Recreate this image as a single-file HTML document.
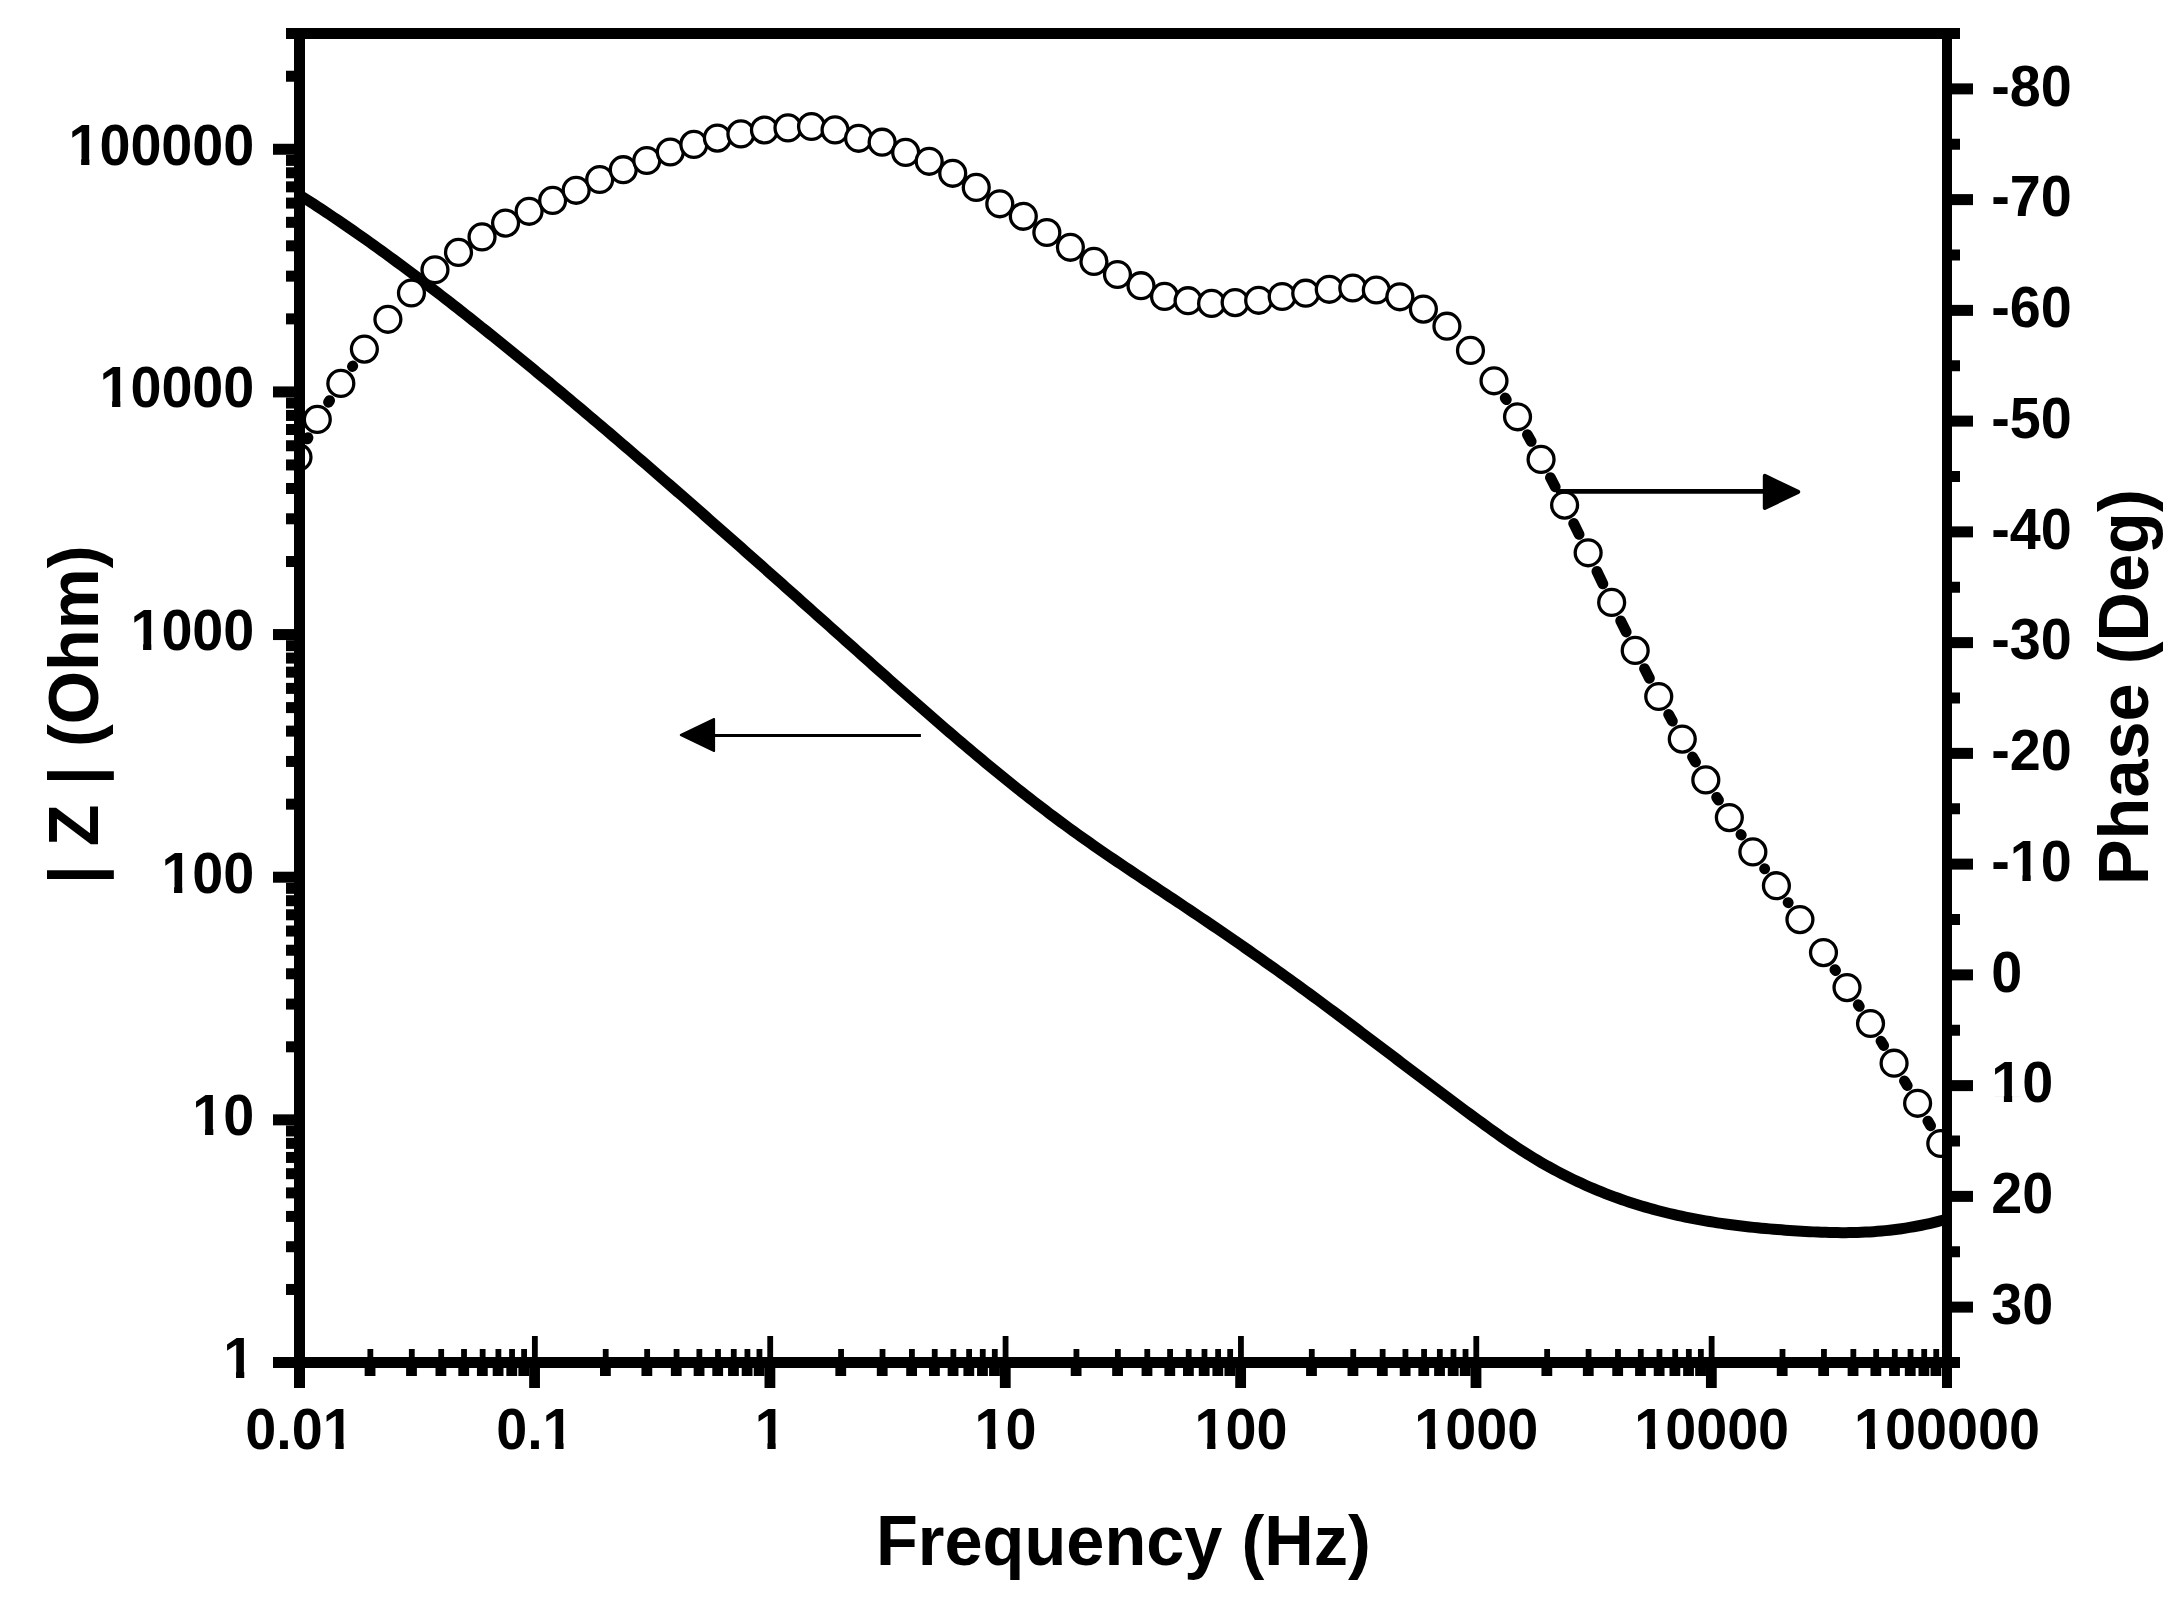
<!DOCTYPE html>
<html lang="en"><head><meta charset="utf-8"><title>Bode plot</title>
<style>html,body{margin:0;padding:0;background:#fff;overflow:hidden}svg{display:block}text{font-family:"Liberation Sans",Arial,Helvetica,sans-serif;font-weight:bold;fill:#000}</style></head><body>
<svg width="2182" height="1611" viewBox="0 0 2182 1611">
<rect width="2182" height="1611" fill="#fff"/>
<defs><clipPath id="plot"><rect x="299.5" y="33.5" width="1647.5" height="1329"/></clipPath></defs>
<g clip-path="url(#plot)">
<polyline fill="none" stroke="#000" stroke-width="11" stroke-linejoin="round" points="293.5,191.01 299.6,195.09 301.5,196.3 305.5,198.84 309.5,201.4 313.5,203.98 317.5,206.59 321.5,209.21 325.5,211.85 329.5,214.52 333.5,217.2 337.5,219.9 341.5,222.61 345.5,225.35 349.5,228.11 353.5,230.88 357.5,233.67 361.5,236.47 365.5,239.29 369.5,242.13 373.5,244.99 377.5,247.86 381.5,250.75 385.5,253.65 389.5,256.57 393.5,259.5 397.5,262.45 401.5,265.41 405.5,268.38 409.5,271.37 413.5,274.37 417.5,277.39 421.5,280.42 425.5,283.46 429.5,286.51 433.5,289.57 437.5,292.65 441.5,295.74 445.5,298.84 449.5,301.95 453.5,305.07 457.5,308.2 461.5,311.34 465.5,314.49 469.5,317.65 473.5,320.82 477.5,324 481.5,327.19 485.5,330.38 489.5,333.59 493.5,336.8 497.5,340.02 501.5,343.25 505.5,346.48 509.5,349.73 513.5,352.98 517.5,356.24 521.5,359.5 525.5,362.78 529.5,366.06 533.5,369.34 537.5,372.64 541.5,375.94 545.5,379.25 549.5,382.57 553.5,385.89 557.5,389.22 561.5,392.55 565.5,395.9 569.5,399.24 573.5,402.6 577.5,405.96 581.5,409.33 585.5,412.7 589.5,416.08 593.5,419.47 597.5,422.86 601.5,426.25 605.5,429.65 609.5,433.06 613.5,436.47 617.5,439.89 621.5,443.32 625.5,446.74 629.5,450.18 633.5,453.62 637.5,457.06 641.5,460.51 645.5,463.96 649.5,467.42 653.5,470.88 657.5,474.35 661.5,477.82 665.5,481.29 669.5,484.77 673.5,488.25 677.5,491.74 681.5,495.23 685.5,498.72 689.5,502.22 693.5,505.72 697.5,509.23 701.5,512.74 705.5,516.25 709.5,519.76 713.5,523.28 717.5,526.8 721.5,530.33 725.5,533.86 729.5,537.39 733.5,540.92 737.5,544.45 741.5,547.99 745.5,551.53 749.5,555.07 753.5,558.62 757.5,562.16 761.5,565.71 765.5,569.26 769.5,572.82 773.5,576.37 777.5,579.93 781.5,583.48 785.5,587.04 789.5,590.6 793.5,594.17 797.5,597.73 801.5,601.29 805.5,604.86 809.5,608.43 813.5,611.99 817.5,615.56 821.5,619.13 825.5,622.7 829.5,626.27 833.5,629.84 837.5,633.41 841.5,636.98 845.5,640.55 849.5,644.12 853.5,647.69 857.5,651.27 861.5,654.83 865.5,658.4 869.5,661.97 873.5,665.53 877.5,669.1 881.5,672.66 885.5,676.21 889.5,679.76 893.5,683.31 897.5,686.85 901.5,690.39 905.5,693.92 909.5,697.44 913.5,700.96 917.5,704.47 921.5,707.98 925.5,711.47 929.5,714.96 933.5,718.44 937.5,721.91 941.5,725.37 945.5,728.82 949.5,732.26 953.5,735.69 957.5,739.11 961.5,742.51 965.5,745.9 969.5,749.28 973.5,752.65 977.5,756 981.5,759.34 985.5,762.66 989.5,765.97 993.5,769.27 997.5,772.55 1001.5,775.81 1005.5,779.05 1009.5,782.28 1013.5,785.49 1017.5,788.68 1021.5,791.86 1025.5,795.01 1029.5,798.15 1033.5,801.26 1037.5,804.36 1041.5,807.43 1045.5,810.48 1049.5,813.52 1053.5,816.52 1057.5,819.51 1061.5,822.48 1065.5,825.42 1069.5,828.33 1073.5,831.23 1077.5,834.1 1081.5,836.95 1085.5,839.79 1089.5,842.6 1093.5,845.4 1097.5,848.18 1101.5,850.94 1105.5,853.69 1109.5,856.43 1113.5,859.15 1117.5,861.86 1121.5,864.57 1125.5,867.26 1129.5,869.94 1133.5,872.62 1137.5,875.29 1141.5,877.95 1145.5,880.61 1149.5,883.27 1153.5,885.93 1157.5,888.58 1161.5,891.24 1165.5,893.89 1169.5,896.55 1173.5,899.2 1177.5,901.87 1181.5,904.54 1185.5,907.21 1189.5,909.89 1193.5,912.57 1197.5,915.27 1201.5,917.96 1205.5,920.67 1209.5,923.38 1213.5,926.1 1217.5,928.82 1221.5,931.56 1225.5,934.29 1229.5,937.04 1233.5,939.8 1237.5,942.56 1241.5,945.33 1245.5,948.11 1249.5,950.89 1253.5,953.69 1257.5,956.49 1261.5,959.31 1265.5,962.13 1269.5,964.96 1273.5,967.8 1277.5,970.64 1281.5,973.5 1285.5,976.37 1289.5,979.25 1293.5,982.14 1297.5,985.03 1301.5,987.94 1305.5,990.86 1309.5,993.79 1313.5,996.72 1317.5,999.67 1321.5,1002.62 1325.5,1005.58 1329.5,1008.55 1333.5,1011.53 1337.5,1014.51 1341.5,1017.5 1345.5,1020.5 1349.5,1023.5 1353.5,1026.5 1357.5,1029.51 1361.5,1032.53 1365.5,1035.54 1369.5,1038.56 1373.5,1041.59 1377.5,1044.61 1381.5,1047.64 1385.5,1050.66 1389.5,1053.69 1393.5,1056.72 1397.5,1059.75 1401.5,1062.78 1405.5,1065.81 1409.5,1068.83 1413.5,1071.86 1417.5,1074.88 1421.5,1077.9 1425.5,1080.91 1429.5,1083.93 1433.5,1086.93 1437.5,1089.94 1441.5,1092.94 1445.5,1095.93 1449.5,1098.92 1453.5,1101.9 1457.5,1104.87 1461.5,1107.84 1465.5,1110.8 1469.5,1113.75 1473.5,1116.7 1477.5,1119.63 1481.5,1122.55 1485.5,1125.46 1489.5,1128.36 1493.5,1131.23 1497.5,1134.07 1501.5,1136.89 1505.5,1139.67 1509.5,1142.41 1513.5,1145.12 1517.5,1147.78 1521.5,1150.38 1525.5,1152.94 1529.5,1155.44 1533.5,1157.89 1537.5,1160.29 1541.5,1162.64 1545.5,1164.93 1549.5,1167.17 1553.5,1169.36 1557.5,1171.51 1561.5,1173.6 1565.5,1175.64 1569.5,1177.64 1573.5,1179.58 1577.5,1181.49 1581.5,1183.34 1585.5,1185.15 1589.5,1186.91 1593.5,1188.63 1597.5,1190.3 1601.5,1191.93 1605.5,1193.52 1609.5,1195.06 1613.5,1196.57 1617.5,1198.03 1621.5,1199.45 1625.5,1200.83 1629.5,1202.17 1633.5,1203.47 1637.5,1204.73 1641.5,1205.96 1645.5,1207.14 1649.5,1208.29 1653.5,1209.41 1657.5,1210.49 1661.5,1211.53 1665.5,1212.54 1669.5,1213.51 1673.5,1214.45 1677.5,1215.36 1681.5,1216.24 1685.5,1217.08 1689.5,1217.9 1693.5,1218.68 1697.5,1219.44 1701.5,1220.17 1705.5,1220.87 1709.5,1221.54 1713.5,1222.19 1717.5,1222.81 1721.5,1223.41 1725.5,1223.98 1729.5,1224.53 1733.5,1225.05 1737.5,1225.56 1741.5,1226.04 1745.5,1226.5 1749.5,1226.94 1753.5,1227.37 1757.5,1227.77 1761.5,1228.16 1765.5,1228.53 1769.5,1228.88 1773.5,1229.22 1777.5,1229.54 1781.5,1229.85 1785.5,1230.15 1789.5,1230.43 1793.5,1230.7 1797.5,1230.96 1801.5,1231.21 1805.5,1231.45 1809.5,1231.67 1813.5,1231.87 1817.5,1232.05 1821.5,1232.22 1825.5,1232.36 1829.5,1232.47 1833.5,1232.56 1837.5,1232.62 1841.5,1232.65 1845.5,1232.65 1849.5,1232.62 1853.5,1232.54 1857.5,1232.44 1861.5,1232.29 1865.5,1232.11 1869.5,1231.89 1873.5,1231.64 1877.5,1231.34 1881.5,1231 1885.5,1230.62 1889.5,1230.2 1893.5,1229.74 1897.5,1229.23 1901.5,1228.68 1905.5,1228.08 1909.5,1227.44 1913.5,1226.75 1917.5,1226.01 1921.5,1225.23 1925.5,1224.39 1929.5,1223.51 1933.5,1222.57 1937.5,1221.59 1941.5,1220.55 1945.5,1219.46 1953,1218.08"/>
<path fill="none" stroke="#000" stroke-width="10.8" stroke-linecap="round" d="M307.32 438.94L307.98 437.66M328.52 402.24L329.62 400.56M352.43 366.5L352.77 366M1505.22 397.96L1506.32 399.64M1527.45 434.74L1531.16 441.46M1550.45 477.63L1555.22 486.87M1573.67 523.48L1579.07 534.42M1596.92 571.32L1602.88 583.88M1620.69 620.81L1626.18 631.99M1644.52 668.66L1649.42 678.24M1668.65 714.44L1672.36 721.16M1692.51 756.86L1695.56 762.14M1716.66 797.29L1718.48 800.21M1740.94 834.5L1741.28 835M1764.59 868.72L1764.69 868.88M1788.1 902.54L1788.25 902.76M1834.91 969.61L1835.57 970.59M1858.25 1004.74L1859.31 1006.36M1881 1041.13L1883.62 1045.57M1904.45 1080.88L1907.24 1085.62M1927.85 1121.06L1930.56 1125.74"/>
<g fill="#fff" stroke="#000" stroke-width="3.3">
<circle cx="298" cy="457.2" r="12.95"/>
<circle cx="317.3" cy="419.4" r="12.95"/>
<circle cx="340.83" cy="383.4" r="12.95"/>
<circle cx="364.37" cy="349.1" r="12.95"/>
<circle cx="387.9" cy="319.3" r="12.95"/>
<circle cx="411.44" cy="293" r="12.95"/>
<circle cx="434.97" cy="269.8" r="12.95"/>
<circle cx="458.5" cy="252.4" r="12.95"/>
<circle cx="482.04" cy="236.9" r="12.95"/>
<circle cx="505.57" cy="223.1" r="12.95"/>
<circle cx="529.11" cy="211.3" r="12.95"/>
<circle cx="552.64" cy="200.4" r="12.95"/>
<circle cx="576.17" cy="190.3" r="12.95"/>
<circle cx="599.71" cy="179.5" r="12.95"/>
<circle cx="623.24" cy="169.7" r="12.95"/>
<circle cx="646.78" cy="160.5" r="12.95"/>
<circle cx="670.31" cy="152" r="12.95"/>
<circle cx="693.84" cy="144.4" r="12.95"/>
<circle cx="717.38" cy="138.1" r="12.95"/>
<circle cx="740.91" cy="133.9" r="12.95"/>
<circle cx="764.45" cy="130" r="12.95"/>
<circle cx="787.98" cy="127.9" r="12.95"/>
<circle cx="811.51" cy="126.5" r="12.95"/>
<circle cx="835.05" cy="129.9" r="12.95"/>
<circle cx="858.58" cy="138.3" r="12.95"/>
<circle cx="882.12" cy="142.2" r="12.95"/>
<circle cx="905.65" cy="152.4" r="12.95"/>
<circle cx="929.18" cy="161.3" r="12.95"/>
<circle cx="952.72" cy="173.3" r="12.95"/>
<circle cx="976.25" cy="187.4" r="12.95"/>
<circle cx="999.79" cy="203.8" r="12.95"/>
<circle cx="1023.32" cy="216.3" r="12.95"/>
<circle cx="1046.85" cy="232.5" r="12.95"/>
<circle cx="1070.39" cy="247.3" r="12.95"/>
<circle cx="1093.92" cy="261.4" r="12.95"/>
<circle cx="1117.46" cy="274.5" r="12.95"/>
<circle cx="1140.99" cy="285.7" r="12.95"/>
<circle cx="1164.52" cy="296.4" r="12.95"/>
<circle cx="1188.06" cy="300.7" r="12.95"/>
<circle cx="1211.59" cy="303.4" r="12.95"/>
<circle cx="1235.13" cy="302.6" r="12.95"/>
<circle cx="1258.66" cy="300.3" r="12.95"/>
<circle cx="1282.19" cy="296.5" r="12.95"/>
<circle cx="1305.73" cy="293.2" r="12.95"/>
<circle cx="1329.26" cy="289.3" r="12.95"/>
<circle cx="1352.8" cy="288" r="12.95"/>
<circle cx="1376.33" cy="290" r="12.95"/>
<circle cx="1399.86" cy="296.8" r="12.95"/>
<circle cx="1423.4" cy="309.1" r="12.95"/>
<circle cx="1446.93" cy="326.2" r="12.95"/>
<circle cx="1470.47" cy="350.4" r="12.95"/>
<circle cx="1494" cy="380.8" r="12.95"/>
<circle cx="1517.53" cy="416.8" r="12.95"/>
<circle cx="1541.07" cy="459.4" r="12.95"/>
<circle cx="1564.6" cy="505.1" r="12.95"/>
<circle cx="1588.14" cy="552.8" r="12.95"/>
<circle cx="1611.67" cy="602.4" r="12.95"/>
<circle cx="1635.2" cy="650.4" r="12.95"/>
<circle cx="1658.74" cy="696.5" r="12.95"/>
<circle cx="1682.27" cy="739.1" r="12.95"/>
<circle cx="1705.81" cy="779.9" r="12.95"/>
<circle cx="1729.34" cy="817.6" r="12.95"/>
<circle cx="1752.87" cy="851.9" r="12.95"/>
<circle cx="1776.41" cy="885.7" r="12.95"/>
<circle cx="1799.94" cy="919.6" r="12.95"/>
<circle cx="1823.48" cy="952.6" r="12.95"/>
<circle cx="1847.01" cy="987.6" r="12.95"/>
<circle cx="1870.54" cy="1023.5" r="12.95"/>
<circle cx="1894.08" cy="1063.2" r="12.95"/>
<circle cx="1917.61" cy="1103.3" r="12.95"/>
<circle cx="1940.8" cy="1143.5" r="12.95"/>
</g></g>
<line x1="1556" y1="491.4" x2="1766" y2="491.4" stroke="#000" stroke-width="4.8"/>
<polygon points="1764.8,475.8 1798.2,491.9 1764.8,508.0" fill="#000" stroke="#000" stroke-width="4" stroke-linejoin="round"/>
<line x1="713" y1="735.45" x2="920.9" y2="735.45" stroke="#000" stroke-width="2.9"/>
<polygon points="714.1,718.9 680.8,735.0 714.1,751.0" fill="#000" stroke="#000" stroke-width="2" stroke-linejoin="round"/>
<g fill="#000">
<rect x="286" y="28" width="1674" height="11"/>
<rect x="273" y="1357" width="1687" height="11"/>
<rect x="294" y="28" width="11" height="1360"/>
<rect x="1942" y="28" width="10" height="1360"/>
<rect x="286" y="1283.96" width="13.5" height="11"/>
<rect x="286" y="1241.23" width="13.5" height="11"/>
<rect x="286" y="1210.91" width="13.5" height="11"/>
<rect x="286" y="1187.4" width="13.5" height="11"/>
<rect x="286" y="1168.18" width="13.5" height="11"/>
<rect x="286" y="1151.94" width="13.5" height="11"/>
<rect x="286" y="1137.87" width="13.5" height="11"/>
<rect x="286" y="1125.46" width="13.5" height="11"/>
<rect x="273" y="1114.35" width="26.5" height="11"/>
<rect x="286" y="1041.31" width="13.5" height="11"/>
<rect x="286" y="998.58" width="13.5" height="11"/>
<rect x="286" y="968.27" width="13.5" height="11"/>
<rect x="286" y="944.75" width="13.5" height="11"/>
<rect x="286" y="925.54" width="13.5" height="11"/>
<rect x="286" y="909.29" width="13.5" height="11"/>
<rect x="286" y="895.22" width="13.5" height="11"/>
<rect x="286" y="882.81" width="13.5" height="11"/>
<rect x="273" y="871.71" width="26.5" height="11"/>
<rect x="286" y="798.66" width="13.5" height="11"/>
<rect x="286" y="755.94" width="13.5" height="11"/>
<rect x="286" y="725.62" width="13.5" height="11"/>
<rect x="286" y="702.11" width="13.5" height="11"/>
<rect x="286" y="682.89" width="13.5" height="11"/>
<rect x="286" y="666.65" width="13.5" height="11"/>
<rect x="286" y="652.58" width="13.5" height="11"/>
<rect x="286" y="640.17" width="13.5" height="11"/>
<rect x="273" y="629.06" width="26.5" height="11"/>
<rect x="286" y="556.02" width="13.5" height="11"/>
<rect x="286" y="513.29" width="13.5" height="11"/>
<rect x="286" y="482.98" width="13.5" height="11"/>
<rect x="286" y="459.46" width="13.5" height="11"/>
<rect x="286" y="440.25" width="13.5" height="11"/>
<rect x="286" y="424" width="13.5" height="11"/>
<rect x="286" y="409.93" width="13.5" height="11"/>
<rect x="286" y="397.52" width="13.5" height="11"/>
<rect x="273" y="386.42" width="26.5" height="11"/>
<rect x="286" y="313.37" width="13.5" height="11"/>
<rect x="286" y="270.65" width="13.5" height="11"/>
<rect x="286" y="240.33" width="13.5" height="11"/>
<rect x="286" y="216.82" width="13.5" height="11"/>
<rect x="286" y="197.6" width="13.5" height="11"/>
<rect x="286" y="181.36" width="13.5" height="11"/>
<rect x="286" y="167.29" width="13.5" height="11"/>
<rect x="286" y="154.87" width="13.5" height="11"/>
<rect x="273" y="143.77" width="26.5" height="11"/>
<rect x="286" y="70.73" width="13.5" height="11"/>
<rect x="1947" y="83.38" width="26" height="11"/>
<rect x="1947" y="194.12" width="26" height="11"/>
<rect x="1947" y="304.88" width="26" height="11"/>
<rect x="1947" y="415.62" width="26" height="11"/>
<rect x="1947" y="526.38" width="26" height="11"/>
<rect x="1947" y="637.12" width="26" height="11"/>
<rect x="1947" y="747.88" width="26" height="11"/>
<rect x="1947" y="858.62" width="26" height="11"/>
<rect x="1947" y="969.38" width="26" height="11"/>
<rect x="1947" y="1080.12" width="26" height="11"/>
<rect x="1947" y="1190.88" width="26" height="11"/>
<rect x="1947" y="1301.62" width="26" height="11"/>
<rect x="1947" y="138.75" width="13" height="11"/>
<rect x="1947" y="249.5" width="13" height="11"/>
<rect x="1947" y="360.25" width="13" height="11"/>
<rect x="1947" y="471" width="13" height="11"/>
<rect x="1947" y="581.75" width="13" height="11"/>
<rect x="1947" y="692.5" width="13" height="11"/>
<rect x="1947" y="803.25" width="13" height="11"/>
<rect x="1947" y="914" width="13" height="11"/>
<rect x="1947" y="1024.75" width="13" height="11"/>
<rect x="1947" y="1135.5" width="13" height="11"/>
<rect x="1947" y="1246.25" width="13" height="11"/>
<rect x="364.65" y="1362.5" width="10.8" height="13.5"/>
<rect x="367.45" y="1349" width="5.8" height="13.5"/>
<rect x="406.09" y="1362.5" width="10.8" height="13.5"/>
<rect x="408.89" y="1349" width="5.8" height="13.5"/>
<rect x="435.5" y="1362.5" width="10.8" height="13.5"/>
<rect x="438.3" y="1349" width="5.8" height="13.5"/>
<rect x="458.31" y="1362.5" width="10.8" height="13.5"/>
<rect x="461.11" y="1349" width="5.8" height="13.5"/>
<rect x="476.94" y="1362.5" width="10.8" height="13.5"/>
<rect x="479.74" y="1349" width="5.8" height="13.5"/>
<rect x="492.7" y="1362.5" width="10.8" height="13.5"/>
<rect x="495.5" y="1349" width="5.8" height="13.5"/>
<rect x="506.35" y="1362.5" width="10.8" height="13.5"/>
<rect x="509.15" y="1349" width="5.8" height="13.5"/>
<rect x="518.39" y="1362.5" width="10.8" height="13.5"/>
<rect x="521.19" y="1349" width="5.8" height="13.5"/>
<rect x="529.16" y="1362.5" width="10.8" height="25.5"/>
<rect x="531.96" y="1336" width="5.8" height="26.5"/>
<rect x="600.01" y="1362.5" width="10.8" height="13.5"/>
<rect x="602.81" y="1349" width="5.8" height="13.5"/>
<rect x="641.45" y="1362.5" width="10.8" height="13.5"/>
<rect x="644.25" y="1349" width="5.8" height="13.5"/>
<rect x="670.86" y="1362.5" width="10.8" height="13.5"/>
<rect x="673.66" y="1349" width="5.8" height="13.5"/>
<rect x="693.66" y="1362.5" width="10.8" height="13.5"/>
<rect x="696.46" y="1349" width="5.8" height="13.5"/>
<rect x="712.3" y="1362.5" width="10.8" height="13.5"/>
<rect x="715.1" y="1349" width="5.8" height="13.5"/>
<rect x="728.06" y="1362.5" width="10.8" height="13.5"/>
<rect x="730.86" y="1349" width="5.8" height="13.5"/>
<rect x="741.71" y="1362.5" width="10.8" height="13.5"/>
<rect x="744.51" y="1349" width="5.8" height="13.5"/>
<rect x="753.74" y="1362.5" width="10.8" height="13.5"/>
<rect x="756.54" y="1349" width="5.8" height="13.5"/>
<rect x="764.51" y="1362.5" width="10.8" height="25.5"/>
<rect x="767.31" y="1336" width="5.8" height="26.5"/>
<rect x="835.36" y="1362.5" width="10.8" height="13.5"/>
<rect x="838.16" y="1349" width="5.8" height="13.5"/>
<rect x="876.81" y="1362.5" width="10.8" height="13.5"/>
<rect x="879.61" y="1349" width="5.8" height="13.5"/>
<rect x="906.21" y="1362.5" width="10.8" height="13.5"/>
<rect x="909.01" y="1349" width="5.8" height="13.5"/>
<rect x="929.02" y="1362.5" width="10.8" height="13.5"/>
<rect x="931.82" y="1349" width="5.8" height="13.5"/>
<rect x="947.66" y="1362.5" width="10.8" height="13.5"/>
<rect x="950.46" y="1349" width="5.8" height="13.5"/>
<rect x="963.41" y="1362.5" width="10.8" height="13.5"/>
<rect x="966.21" y="1349" width="5.8" height="13.5"/>
<rect x="977.06" y="1362.5" width="10.8" height="13.5"/>
<rect x="979.86" y="1349" width="5.8" height="13.5"/>
<rect x="989.1" y="1362.5" width="10.8" height="13.5"/>
<rect x="991.9" y="1349" width="5.8" height="13.5"/>
<rect x="999.87" y="1362.5" width="10.8" height="25.5"/>
<rect x="1002.67" y="1336" width="5.8" height="26.5"/>
<rect x="1070.72" y="1362.5" width="10.8" height="13.5"/>
<rect x="1073.52" y="1349" width="5.8" height="13.5"/>
<rect x="1112.17" y="1362.5" width="10.8" height="13.5"/>
<rect x="1114.97" y="1349" width="5.8" height="13.5"/>
<rect x="1141.57" y="1362.5" width="10.8" height="13.5"/>
<rect x="1144.37" y="1349" width="5.8" height="13.5"/>
<rect x="1164.38" y="1362.5" width="10.8" height="13.5"/>
<rect x="1167.18" y="1349" width="5.8" height="13.5"/>
<rect x="1183.01" y="1362.5" width="10.8" height="13.5"/>
<rect x="1185.81" y="1349" width="5.8" height="13.5"/>
<rect x="1198.77" y="1362.5" width="10.8" height="13.5"/>
<rect x="1201.57" y="1349" width="5.8" height="13.5"/>
<rect x="1212.42" y="1362.5" width="10.8" height="13.5"/>
<rect x="1215.22" y="1349" width="5.8" height="13.5"/>
<rect x="1224.46" y="1362.5" width="10.8" height="13.5"/>
<rect x="1227.26" y="1349" width="5.8" height="13.5"/>
<rect x="1235.23" y="1362.5" width="10.8" height="25.5"/>
<rect x="1238.03" y="1336" width="5.8" height="26.5"/>
<rect x="1306.08" y="1362.5" width="10.8" height="13.5"/>
<rect x="1308.88" y="1349" width="5.8" height="13.5"/>
<rect x="1347.52" y="1362.5" width="10.8" height="13.5"/>
<rect x="1350.32" y="1349" width="5.8" height="13.5"/>
<rect x="1376.93" y="1362.5" width="10.8" height="13.5"/>
<rect x="1379.73" y="1349" width="5.8" height="13.5"/>
<rect x="1399.74" y="1362.5" width="10.8" height="13.5"/>
<rect x="1402.54" y="1349" width="5.8" height="13.5"/>
<rect x="1418.37" y="1362.5" width="10.8" height="13.5"/>
<rect x="1421.17" y="1349" width="5.8" height="13.5"/>
<rect x="1434.13" y="1362.5" width="10.8" height="13.5"/>
<rect x="1436.93" y="1349" width="5.8" height="13.5"/>
<rect x="1447.78" y="1362.5" width="10.8" height="13.5"/>
<rect x="1450.58" y="1349" width="5.8" height="13.5"/>
<rect x="1459.82" y="1362.5" width="10.8" height="13.5"/>
<rect x="1462.62" y="1349" width="5.8" height="13.5"/>
<rect x="1470.59" y="1362.5" width="10.8" height="25.5"/>
<rect x="1473.39" y="1336" width="5.8" height="26.5"/>
<rect x="1541.44" y="1362.5" width="10.8" height="13.5"/>
<rect x="1544.24" y="1349" width="5.8" height="13.5"/>
<rect x="1582.88" y="1362.5" width="10.8" height="13.5"/>
<rect x="1585.68" y="1349" width="5.8" height="13.5"/>
<rect x="1612.28" y="1362.5" width="10.8" height="13.5"/>
<rect x="1615.08" y="1349" width="5.8" height="13.5"/>
<rect x="1635.09" y="1362.5" width="10.8" height="13.5"/>
<rect x="1637.89" y="1349" width="5.8" height="13.5"/>
<rect x="1653.73" y="1362.5" width="10.8" height="13.5"/>
<rect x="1656.53" y="1349" width="5.8" height="13.5"/>
<rect x="1669.49" y="1362.5" width="10.8" height="13.5"/>
<rect x="1672.29" y="1349" width="5.8" height="13.5"/>
<rect x="1683.13" y="1362.5" width="10.8" height="13.5"/>
<rect x="1685.93" y="1349" width="5.8" height="13.5"/>
<rect x="1695.17" y="1362.5" width="10.8" height="13.5"/>
<rect x="1697.97" y="1349" width="5.8" height="13.5"/>
<rect x="1705.94" y="1362.5" width="10.8" height="25.5"/>
<rect x="1708.74" y="1336" width="5.8" height="26.5"/>
<rect x="1776.79" y="1362.5" width="10.8" height="13.5"/>
<rect x="1779.59" y="1349" width="5.8" height="13.5"/>
<rect x="1818.24" y="1362.5" width="10.8" height="13.5"/>
<rect x="1821.04" y="1349" width="5.8" height="13.5"/>
<rect x="1847.64" y="1362.5" width="10.8" height="13.5"/>
<rect x="1850.44" y="1349" width="5.8" height="13.5"/>
<rect x="1870.45" y="1362.5" width="10.8" height="13.5"/>
<rect x="1873.25" y="1349" width="5.8" height="13.5"/>
<rect x="1889.09" y="1362.5" width="10.8" height="13.5"/>
<rect x="1891.89" y="1349" width="5.8" height="13.5"/>
<rect x="1904.84" y="1362.5" width="10.8" height="13.5"/>
<rect x="1907.64" y="1349" width="5.8" height="13.5"/>
<rect x="1918.49" y="1362.5" width="10.8" height="13.5"/>
<rect x="1921.29" y="1349" width="5.8" height="13.5"/>
<rect x="1930.53" y="1362.5" width="10.8" height="13.5"/>
<rect x="1933.33" y="1349" width="5.8" height="13.5"/>
</g>
<g>
<g transform="translate(254.3 1377.9) scale(1 1.04)"><text font-size="55.7" text-anchor="end">1</text>
<rect x="-28.67" y="-6.12" width="10.39" height="6.8" fill="#fff"/>
<rect x="-10.03" y="-6.12" width="10.04" height="6.8" fill="#fff"/>
</g>
<g transform="translate(254.3 1135.25) scale(1 1.04)"><text font-size="55.7" text-anchor="end">10</text>
<rect x="-59.64" y="-6.12" width="10.39" height="6.8" fill="#fff"/>
<rect x="-41.01" y="-6.12" width="10.04" height="6.8" fill="#fff"/>
</g>
<g transform="translate(254.3 892.61) scale(1 1.04)"><text font-size="55.7" text-anchor="end">100</text>
<rect x="-90.62" y="-6.12" width="10.39" height="6.8" fill="#fff"/>
<rect x="-71.99" y="-6.12" width="10.04" height="6.8" fill="#fff"/>
</g>
<g transform="translate(254.3 649.96) scale(1 1.04)"><text font-size="55.7" text-anchor="end">1000</text>
<rect x="-121.6" y="-6.12" width="10.39" height="6.8" fill="#fff"/>
<rect x="-102.97" y="-6.12" width="10.04" height="6.8" fill="#fff"/>
</g>
<g transform="translate(254.3 407.32) scale(1 1.04)"><text font-size="55.7" text-anchor="end">10000</text>
<rect x="-152.58" y="-6.12" width="10.39" height="6.8" fill="#fff"/>
<rect x="-133.95" y="-6.12" width="10.04" height="6.8" fill="#fff"/>
</g>
<g transform="translate(254.3 164.67) scale(1 1.04)"><text font-size="55.7" text-anchor="end">100000</text>
<rect x="-183.55" y="-6.12" width="10.39" height="6.8" fill="#fff"/>
<rect x="-164.92" y="-6.12" width="10.04" height="6.8" fill="#fff"/>
</g>
<text transform="translate(1991.2 105.67) scale(1 1.04)" font-size="55.7" text-anchor="start">-80</text>
<text transform="translate(1991.2 216.43) scale(1 1.04)" font-size="55.7" text-anchor="start">-70</text>
<text transform="translate(1991.2 327.18) scale(1 1.04)" font-size="55.7" text-anchor="start">-60</text>
<text transform="translate(1991.2 437.93) scale(1 1.04)" font-size="55.7" text-anchor="start">-50</text>
<text transform="translate(1991.2 548.67) scale(1 1.04)" font-size="55.7" text-anchor="start">-40</text>
<text transform="translate(1991.2 659.42) scale(1 1.04)" font-size="55.7" text-anchor="start">-30</text>
<text transform="translate(1991.2 770.17) scale(1 1.04)" font-size="55.7" text-anchor="start">-20</text>
<g transform="translate(1991.2 880.92) scale(1 1.04)"><text font-size="55.7" text-anchor="start">-10</text>
<rect x="20.86" y="-6.12" width="10.39" height="6.8" fill="#fff"/>
<rect x="39.49" y="-6.12" width="10.04" height="6.8" fill="#fff"/>
</g>
<text transform="translate(1991.2 991.67) scale(1 1.04)" font-size="55.7" text-anchor="start">0</text>
<g transform="translate(1991.2 1102.42) scale(1 1.04)"><text font-size="55.7" text-anchor="start">10</text>
<rect x="2.31" y="-6.12" width="10.39" height="6.8" fill="#fff"/>
<rect x="20.94" y="-6.12" width="10.04" height="6.8" fill="#fff"/>
</g>
<text transform="translate(1991.2 1213.17) scale(1 1.04)" font-size="55.7" text-anchor="start">20</text>
<text transform="translate(1991.2 1323.92) scale(1 1.04)" font-size="55.7" text-anchor="start">30</text>
<g transform="translate(299.5 1449) scale(1 1.04)"><text font-size="55.7" text-anchor="middle">0.01</text>
<rect x="25.54" y="-6.12" width="10.39" height="6.8" fill="#fff"/>
<rect x="44.17" y="-6.12" width="10.04" height="6.8" fill="#fff"/>
</g>
<g transform="translate(534.86 1449) scale(1 1.04)"><text font-size="55.7" text-anchor="middle">0.1</text>
<rect x="10.05" y="-6.12" width="10.39" height="6.8" fill="#fff"/>
<rect x="28.68" y="-6.12" width="10.04" height="6.8" fill="#fff"/>
</g>
<g transform="translate(770.21 1449) scale(1 1.04)"><text font-size="55.7" text-anchor="middle">1</text>
<rect x="-13.18" y="-6.12" width="10.39" height="6.8" fill="#fff"/>
<rect x="5.45" y="-6.12" width="10.04" height="6.8" fill="#fff"/>
</g>
<g transform="translate(1005.57 1449) scale(1 1.04)"><text font-size="55.7" text-anchor="middle">10</text>
<rect x="-28.67" y="-6.12" width="10.39" height="6.8" fill="#fff"/>
<rect x="-10.03" y="-6.12" width="10.04" height="6.8" fill="#fff"/>
</g>
<g transform="translate(1240.93 1449) scale(1 1.04)"><text font-size="55.7" text-anchor="middle">100</text>
<rect x="-44.15" y="-6.12" width="10.39" height="6.8" fill="#fff"/>
<rect x="-25.52" y="-6.12" width="10.04" height="6.8" fill="#fff"/>
</g>
<g transform="translate(1476.29 1449) scale(1 1.04)"><text font-size="55.7" text-anchor="middle">1000</text>
<rect x="-59.64" y="-6.12" width="10.39" height="6.8" fill="#fff"/>
<rect x="-41.01" y="-6.12" width="10.04" height="6.8" fill="#fff"/>
</g>
<g transform="translate(1711.64 1449) scale(1 1.04)"><text font-size="55.7" text-anchor="middle">10000</text>
<rect x="-75.13" y="-6.12" width="10.39" height="6.8" fill="#fff"/>
<rect x="-56.5" y="-6.12" width="10.04" height="6.8" fill="#fff"/>
</g>
<g transform="translate(1947 1449) scale(1 1.04)"><text font-size="55.7" text-anchor="middle">100000</text>
<rect x="-90.62" y="-6.12" width="10.39" height="6.8" fill="#fff"/>
<rect x="-71.99" y="-6.12" width="10.04" height="6.8" fill="#fff"/>
</g>
<text transform="translate(1123.4 1564.7) scale(1 1.04)" font-size="68.5" text-anchor="middle">Frequency (Hz)</text>
<text transform="translate(97.7 714.9) rotate(-90) scale(1 1.04)" font-size="68.5" text-anchor="middle">| Z | (Ohm)</text>
<text transform="translate(2148.2 687.2) rotate(-90) scale(1 1.04)" font-size="68.5" text-anchor="middle">Phase (Deg)</text>
</g>
</svg></body></html>
